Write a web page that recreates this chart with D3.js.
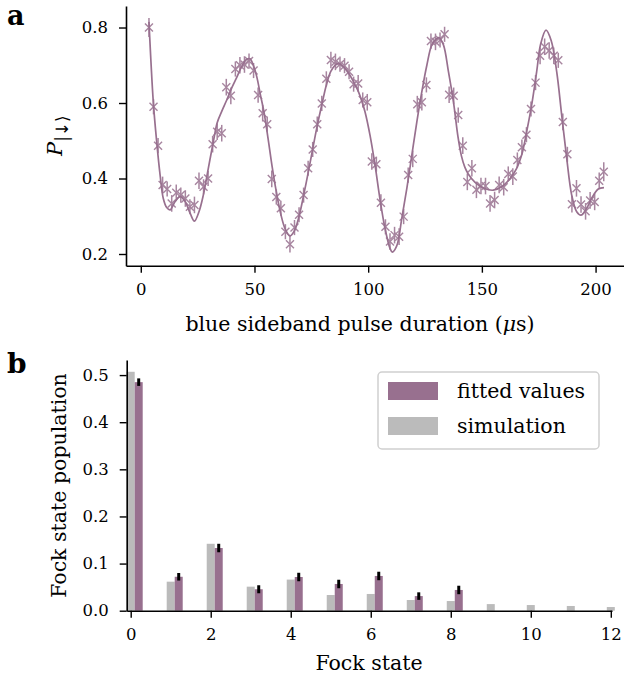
<!DOCTYPE html>
<html><head><meta charset="utf-8">
<script src="https://cdn.jsdelivr.net/npm/d3@7"></script>
<style>
html,body{margin:0;padding:0;background:#fff;}
svg text{font-family:"DejaVu Serif",serif;fill:#000;}
</style></head>
<body>
<svg id="chart" width="624" height="683"></svg>
<script>
// ---------- Panel a data ----------
const pulseTime = [3.6,5.6,7.6,9.6,11.6,13.6,15.6,17.6,19.6,21.6,
23.6,25.6,27.6,29.6,31.6,33.6,35.6,37.6,39.6,41.6,
43.6,45.6,47.6,49.6,51.6,53.6,55.6,57.6,59.6,61.6,
63.6,65.6,67.6,69.6,71.6,73.6,75.6,77.6,79.6,81.6,
83.6,85.6,87.6,89.6,91.6,93.6,95.6,97.6,99.6,101.6,
103.6,105.6,107.6,109.6,111.6,113.6,115.6,117.6,119.6,121.6,
123.6,125.6,127.6,129.6,131.6,133.6,135.6,137.6,139.6,141.6,
143.6,145.6,147.6,149.6,151.6,153.6,155.6,157.6,159.6,161.6,
163.6,165.6,167.6,169.6,171.6,173.6,175.6,177.6,179.6,181.6,
183.6,185.6,187.6,189.6,191.6,193.6,195.6,197.6,199.6,201.6,203.6];
const pDown = [0.800,0.590,0.487,0.383,0.372,0.334,0.362,0.356,0.347,0.325,
0.330,0.394,0.378,0.400,0.491,0.524,0.520,0.642,0.619,0.690,
0.700,0.702,0.711,0.686,0.621,0.573,0.544,0.399,0.351,0.321,
0.259,0.226,0.270,0.304,0.356,0.427,0.477,0.544,0.599,0.664,
0.714,0.709,0.703,0.699,0.683,0.650,0.652,0.608,0.602,0.445,
0.438,0.336,0.272,0.233,0.250,0.246,0.299,0.409,0.452,0.597,
0.602,0.648,0.764,0.762,0.767,0.782,0.622,0.619,0.568,0.487,
0.391,0.427,0.370,0.380,0.380,0.334,0.343,0.383,0.377,0.412,
0.405,0.449,0.483,0.516,0.584,0.654,0.725,0.749,0.739,0.725,
0.713,0.550,0.464,0.332,0.374,0.331,0.313,0.342,0.338,0.394,0.418];
const pDownErr = [0.025,0.020,0.020,0.022,0.020,0.022,0.022,0.020,0.022,0.020,
0.022,0.022,0.020,0.020,0.022,0.022,0.022,0.022,0.022,0.020,
0.022,0.022,0.020,0.020,0.020,0.022,0.020,0.022,0.020,0.020,
0.020,0.022,0.020,0.020,0.020,0.020,0.020,0.020,0.020,0.020,
0.022,0.022,0.020,0.020,0.020,0.020,0.022,0.020,0.022,0.022,
0.020,0.022,0.020,0.022,0.022,0.022,0.020,0.020,0.022,0.022,
0.022,0.020,0.020,0.022,0.020,0.020,0.022,0.022,0.020,0.022,
0.022,0.022,0.022,0.022,0.022,0.022,0.022,0.022,0.022,0.020,
0.022,0.020,0.020,0.020,0.020,0.020,0.022,0.022,0.022,0.022,
0.020,0.022,0.020,0.022,0.022,0.022,0.022,0.022,0.022,0.022,0.025];
// fitted curve
const fitTime = [3.6,5.5,7.0,8.5,9.9,11.4,12.9,15.1,17.3,19.5,21.7,23.6,25.6,27.5,29.7,31.9,33.6,35.6,37.8,40.0,
42.2,44.4,46.6,48.0,49.5,51.0,52.5,54.2,56.0,57.8,59.6,61.6,63.6,65.7,67.6,69.6,71.6,73.7,75.6,77.6,
79.6,81.5,83.5,85.4,87.0,89.0,91.0,92.8,94.5,95.7,97.2,98.6,100.8,103.0,105.2,107.4,109.6,110.6,112.6,114.8,
117.0,119.2,121.4,123.6,125.8,128.0,130.2,131.2,133.1,135.3,137.5,139.5,141.0,142.5,144.0,147.0,151.0,155.0,158.7,162.4,
165.3,167.5,169.7,171.9,174.1,175.8,178.2,180.5,182.9,185.1,187.3,189.5,191.7,193.6,196.1,198.3,201.2,203.7];
const fitP = [0.815,0.603,0.497,0.409,0.347,0.323,0.317,0.339,0.352,0.339,0.308,0.287,0.312,0.356,0.427,0.497,0.548,0.578,0.608,0.640,
0.668,0.697,0.716,0.717,0.700,0.670,0.625,0.575,0.505,0.430,0.365,0.305,0.265,0.248,0.262,0.300,0.355,0.418,0.478,0.540,
0.595,0.645,0.683,0.700,0.705,0.697,0.682,0.665,0.645,0.630,0.605,0.577,0.515,0.436,0.345,0.268,0.215,0.205,0.222,0.295,
0.374,0.462,0.550,0.630,0.700,0.754,0.771,0.773,0.754,0.683,0.603,0.510,0.460,0.430,0.412,0.390,0.374,0.369,0.378,0.400,
0.427,0.462,0.524,0.595,0.683,0.755,0.793,0.765,0.683,0.568,0.454,0.356,0.312,0.303,0.321,0.348,0.372,0.376];
const aXTicks = [0,50,100,150,200];
const aYTicks = [0.2,0.4,0.6,0.8];

// ---------- Panel b data ----------
const simStates = [0,1,2,3,4,5,6,7,8,9,10,11,12];
const simPop = [0.507,0.0616,0.142,0.051,0.066,0.0333,0.0355,0.0227,0.0205,0.014,0.012,0.010,0.0078];
const fitStates = [0,1,2,3,4,5,6,7,8];
const fitPop = [0.485,0.072,0.133,0.0455,0.0715,0.0567,0.0737,0.031,0.044];
const fitErr = [0.008,0.008,0.009,0.0085,0.009,0.009,0.009,0.008,0.009];
const bXTicks = [0,2,4,6,8,10,12];
const bYTicks = [0.0,0.1,0.2,0.3,0.4,0.5];
const legendLabels = ["fitted values","simulation"];

const purple = "#98708f";
const grey = "#bbbbbb";

const svg = d3.select("#chart");

// ===== Panel a =====
const xa = d3.scaleLinear().domain([-6.5,212.5]).range([126,624]);
const ya = d3.scaleLinear().domain([0.169,0.857]).range([265.7,6]);

const ga = svg.append("g");
const axA = ga.append("g").attr("transform","translate(0,265.7)")
  .call(d3.axisBottom(xa).tickValues(aXTicks).tickFormat(d3.format("d")).tickSize(7).tickPadding(11).tickSizeOuter(0));
const ayA = ga.append("g").attr("transform","translate(126,0)")
  .call(d3.axisLeft(ya).tickValues(aYTicks).tickFormat(d3.format(".1f")).tickSize(7).tickPadding(11).tickSizeOuter(0));
[axA, ayA].forEach(a=>{
  a.select(".domain").attr("stroke","#000").attr("stroke-width",1.6);
  a.selectAll(".tick line").attr("stroke","#000").attr("stroke-width",1.4);
  a.selectAll(".tick text").style("font-family","DejaVu Serif").style("font-size","16.5px").attr("fill","#000");
});

// fit line
const line = d3.line().x((d,i)=>xa(fitTime[i])).y((d,i)=>ya(fitP[i])).curve(d3.curveCatmullRom.alpha(0.5));
ga.append("path").datum(fitP).attr("d",line).attr("fill","none").attr("stroke",purple).attr("stroke-width",1.7);

// error bars & markers
const pts = ga.append("g").attr("opacity",0.85);
pulseTime.forEach((t,i)=>{
  const cx = xa(t), cy = ya(pDown[i]);
  pts.append("line").attr("x1",cx).attr("x2",cx)
    .attr("y1",ya(pDown[i]-pDownErr[i])).attr("y2",ya(pDown[i]+pDownErr[i]))
    .attr("stroke",purple).attr("stroke-width",1.5);
  const s = 4;
  pts.append("path").attr("d",`M${cx-s},${cy-s}L${cx+s},${cy+s}M${cx-s},${cy+s}L${cx+s},${cy-s}`)
    .attr("stroke",purple).attr("stroke-width",1.4).attr("fill","none");
});

ga.append("text").attr("x",360).attr("y",331).attr("text-anchor","middle").style("font-size","20.5px")
  .text("blue sideband pulse duration (")
  .append("tspan").style("font-style","italic").text("μ")
  .select(function(){return this.parentNode;}).append("tspan").text("s)");

const ylab = ga.append("text").attr("transform","translate(62,156) rotate(-90)").attr("text-anchor","start");
ylab.append("tspan").style("font-style","italic").style("font-size","21px").text("P");
ylab.append("tspan").attr("dy",6).style("font-size","17px").style("font-family","DejaVu Sans").text("|↓⟩");

svg.append("text").attr("x",7).attr("y",25).style("font-size","27px").style("font-weight","bold").text("a");

// ===== Panel b =====
const xb = d3.scaleLinear().domain([-0.1,12.03]).range([126.7,612]);
const yb = d3.scaleLinear().domain([0,0.532]).range([610.7,360]);
const gb = svg.append("g");
const barW = xb(0.2)-xb(0);

gb.selectAll("rect.sim").data(simPop).join("rect").attr("class","sim")
  .attr("x",(d,i)=>xb(simStates[i]-0.1)).attr("width",barW)
  .attr("y",d=>yb(d)).attr("height",d=>yb(0)-yb(d)).attr("fill",grey);
gb.selectAll("rect.fit").data(fitPop).join("rect").attr("class","fit")
  .attr("x",(d,i)=>xb(fitStates[i]+0.1)).attr("width",barW)
  .attr("y",d=>yb(d)).attr("height",d=>yb(0)-yb(d)).attr("fill",purple);
gb.selectAll("line.err").data(fitPop).join("line").attr("class","err")
  .attr("x1",(d,i)=>xb(fitStates[i]+0.2)).attr("x2",(d,i)=>xb(fitStates[i]+0.2))
  .attr("y1",(d,i)=>yb(d-fitErr[i])).attr("y2",(d,i)=>yb(d+fitErr[i]))
  .attr("stroke","#000").attr("stroke-width",3);

const axB = gb.append("g").attr("transform","translate(0,610.7)")
  .call(d3.axisBottom(xb).tickValues(bXTicks).tickFormat(d3.format("d")).tickSize(7).tickPadding(11).tickSizeOuter(0));
const ayB = gb.append("g").attr("transform","translate(126.7,0)")
  .call(d3.axisLeft(yb).tickValues(bYTicks).tickFormat(d3.format(".1f")).tickSize(7).tickPadding(11).tickSizeOuter(0));
[axB, ayB].forEach(a=>{
  a.select(".domain").attr("stroke","#000").attr("stroke-width",1.6);
  a.selectAll(".tick line").attr("stroke","#000").attr("stroke-width",1.4);
  a.selectAll(".tick text").style("font-family","DejaVu Serif").style("font-size","16.5px").attr("fill","#000");
});

gb.append("text").attr("x",369).attr("y",670).attr("text-anchor","middle").style("font-size","20.5px").text("Fock state");
gb.append("text").attr("transform","translate(66,485.5) rotate(-90)").attr("text-anchor","middle")
  .style("font-size","20.5px").text("Fock state population");

svg.append("text").attr("x",7).attr("y",373).style("font-size","28px").style("font-weight","bold").text("b");

// legend
const lg = gb.append("g");
lg.append("rect").attr("x",378).attr("y",372).attr("width",221).attr("height",77).attr("rx",4)
  .attr("fill","#fff").attr("fill-opacity",0.8).attr("stroke","#d0d0d0").attr("stroke-width",1.5);
const legColors = [purple, grey];
legendLabels.forEach((lab,i)=>{
  lg.append("rect").attr("x",388).attr("y",382+i*35).attr("width",50).attr("height",18).attr("fill",legColors[i]);
  lg.append("text").attr("x",457).attr("y",398+i*35).style("font-size","20.5px").text(lab);
});
</script>
</body></html>
